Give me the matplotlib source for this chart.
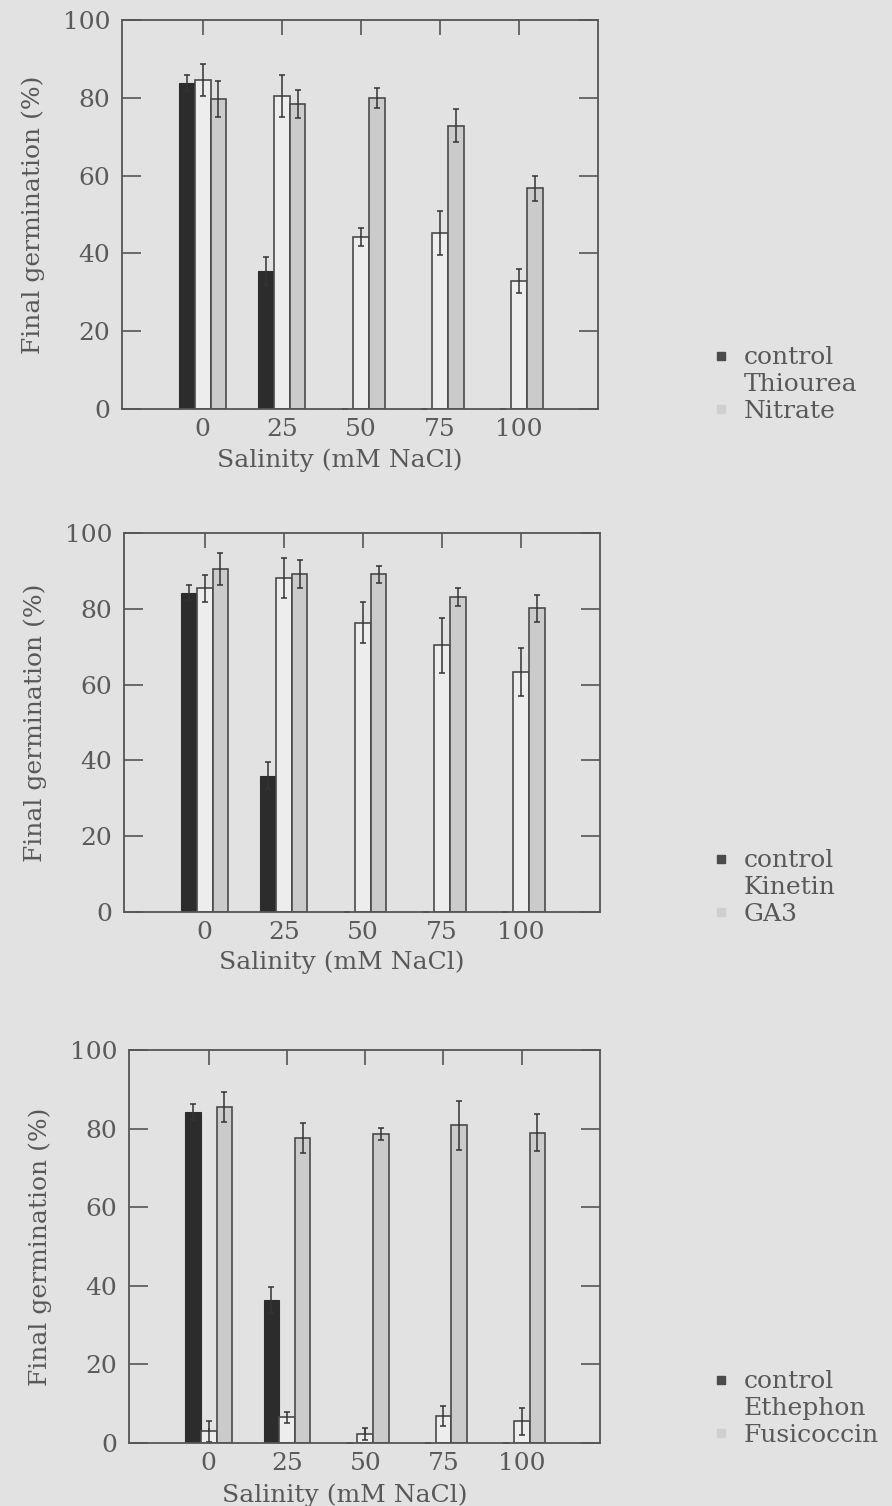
import numpy as np
import matplotlib
matplotlib.use("Agg")
import matplotlib.pyplot as plt
from matplotlib.lines import Line2D

# Salinity levels (mM NaCl)
salinity = ["0", "25", "50", "75", "100"]
y_ticks = [0, 20, 40, 60, 80, 100]

# Final germination (%) – control series, shared by all three panels
control_1 = [83.8, 35.5, 0, 0, 0]
control_1_err = [2.0, 3.5, 0, 0, 0]
control_2 = [84.2, 36.0, 0, 0, 0]
control_2_err = [2.0, 3.5, 0, 0, 0]
control_3 = [84.3, 36.5, 0, 0, 0]
control_3_err = [2.0, 3.3, 0, 0, 0]

# Panel 1: Thiourea / Nitrate
thiourea = [84.6, 80.5, 44.3, 45.2, 33.0]
thiourea_err = [4.2, 5.4, 2.3, 5.7, 3.1]
nitrate = [79.7, 78.5, 80.0, 72.8, 56.7]
nitrate_err = [4.5, 3.6, 2.5, 4.2, 3.2]

# Panel 2: Kinetin / GA3
kinetin = [85.4, 88.2, 76.3, 70.4, 63.3]
kinetin_err = [3.6, 5.3, 5.4, 7.3, 6.4]
ga3 = [90.4, 89.3, 89.1, 83.2, 80.1]
ga3_err = [4.2, 3.7, 2.3, 2.4, 3.5]

# Panel 3: Ethephon / Fusicoccin
ethephon = [3.0, 6.6, 2.4, 6.8, 5.5]
ethephon_err = [2.7, 1.4, 1.5, 2.5, 3.5]
fusicoccin = [85.5, 77.6, 78.6, 80.8, 79.0]
fusicoccin_err = [3.8, 3.7, 1.5, 6.3, 4.6]

panel_labels = [
    ("control", "Thiourea", "Nitrate"),
    ("control", "Kinetin", "GA3"),
    ("control", "Ethephon", "Fusicoccin"),
]

BG = "#e2e2e2"
TXT = "#585858"
EDGE = "#4a4a4a"
C_CONTROL = "#2c2c2c"
C_WHITE = "#ededed"
C_GRAY = "#cbcbcb"

plt.rcParams["font.family"] = ["DejaVu Serif"]
plt.rcParams["text.color"] = TXT
plt.rcParams["axes.labelcolor"] = TXT
plt.rcParams["xtick.color"] = "#5a5a5a"
plt.rcParams["ytick.color"] = "#5a5a5a"

fig = plt.figure(figsize=(8.92, 15.06), dpi=100, facecolor=BG)

# axes boxes in figure fractions: left, bottom, width, height
boxes = [
    (0.1368, 0.7284, 0.5336, 0.2583),
    (0.1390, 0.3944, 0.5336, 0.2517),
    (0.1446, 0.0418, 0.5280, 0.2610),
]
legend_tops = [0.770, 0.436, 0.090]

panels = [
    (control_1, control_1_err, thiourea, thiourea_err, nitrate, nitrate_err),
    (control_2, control_2_err, kinetin, kinetin_err, ga3, ga3_err),
    (control_3, control_3_err, ethephon, ethephon_err, fusicoccin, fusicoccin_err),
]

x = np.arange(len(salinity))
w = 0.2
err_kw = dict(ecolor="#333333", elinewidth=1.1, capsize=2.5, capthick=1.1)

for box, data, labels, ltop in zip(boxes, panels, panel_labels, legend_tops):
    ax = fig.add_axes(box)
    ax.set_facecolor(BG)
    c, ce, a, ae, b, be = data
    ax.bar(x - w, c, w, yerr=ce, color=C_CONTROL, edgecolor=C_CONTROL,
           linewidth=0.8, error_kw=err_kw, zorder=2)
    ax.bar(x, a, w, yerr=ae, color=C_WHITE, edgecolor=EDGE,
           linewidth=1.2, error_kw=err_kw, zorder=2)
    ax.bar(x + w, b, w, yerr=be, color=C_GRAY, edgecolor=EDGE,
           linewidth=1.2, error_kw=err_kw, zorder=2)

    ax.set_xlim(-1.02, 5.0)
    ax.set_ylim(0, 100)
    ax.set_xticks(x)
    ax.set_xticklabels(salinity)
    ax.set_yticks(y_ticks)
    ax.tick_params(axis="both", direction="in", labelsize=18,
                   top=True, right=True, width=1.2, color="#555555")
    ax.tick_params(axis="y", length=14, pad=8.5)
    ax.tick_params(axis="x", length=11, pad=6.5)
    for s in ax.spines.values():
        s.set_color("#555555")
        s.set_linewidth(1.3)

    ax.set_xlabel("Salinity (mM NaCl)", fontsize=18, labelpad=0)
    ax.xaxis.set_label_coords(0.458, -0.102)
    ax.set_ylabel("Final germination (%)", fontsize=18, labelpad=13)

    handles = [
        Line2D([], [], marker="s", linestyle="none", markersize=6,
               markerfacecolor="#4a4a4a", markeredgecolor="#4a4a4a"),
        Line2D([], [], marker="s", linestyle="none", markersize=6,
               markerfacecolor=BG, markeredgecolor=BG),
        Line2D([], [], marker="s", linestyle="none", markersize=6,
               markerfacecolor="#cfcfcf", markeredgecolor="#cfcfcf"),
    ]
    fig.legend(handles, labels, loc="upper left",
               bbox_to_anchor=(0.800, ltop), bbox_transform=fig.transFigure,
               frameon=False, fontsize=18, handlelength=0.6,
               handletextpad=0.6, labelspacing=0.15, borderpad=0,
               borderaxespad=0, labelcolor=TXT)

fig.savefig("out.png", dpi=100, facecolor=BG)
